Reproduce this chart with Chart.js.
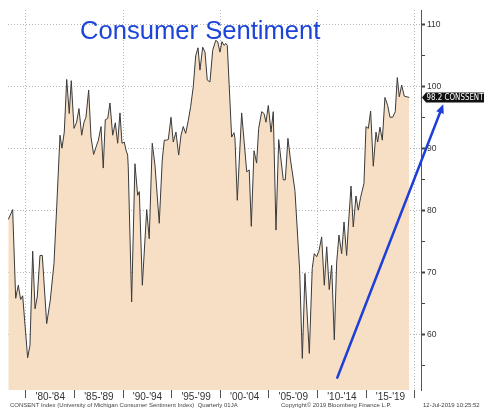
<!DOCTYPE html>
<html><head><meta charset="utf-8">
<script src="https://cdn.jsdelivr.net/npm/chart.js@4/dist/chart.umd.min.js"></script>
<style>
html,body{margin:0;padding:0;background:#fff;}
#wrap{position:relative;width:484px;height:413px;overflow:hidden;}
#title{position:absolute;left:80px;top:15px;font:25.6px "Liberation Sans",Arial,sans-serif;line-height:30px;color:#1b45d8;white-space:nowrap;}
.foot{position:absolute;top:402px;font:6px "Liberation Sans",Arial,sans-serif;line-height:7px;color:#444;white-space:nowrap;}
</style></head>
<body><div id="wrap"><canvas id="c" width="484" height="413"></canvas>
<div id="title">Consumer Sentiment</div>
<div class="foot" style="left:10px">CONSENT Index (University of Michigan Consumer Sentiment Index)&nbsp; Quarterly 01JA</div>
<div class="foot" style="left:281px">Copyright© 2019 Bloomberg Finance L.P.</div>
<div class="foot" style="left:423px">12-Jul-2019 10:25:52</div>
</div>
<script>
// decimal-year dates of the traced points
const dates = [1978.18,1978.63,1978.94,1979.21,1979.45,1979.66,1980.17,1980.41,1980.69,1980.93,1981.16,1981.44,1981.68,1982.13,1982.50,1982.88,1983.16,1983.50,1983.70,1983.94,1984.19,1984.45,1984.66,1984.94,1985.21,1985.45,1985.73,1985.97,1986.17,1986.45,1986.69,1986.96,1987.27,1987.45,1987.72,1987.95,1988.16,1988.41,1988.64,1988.92,1989.19,1989.43,1989.67,1989.88,1990.11,1990.29,1990.46,1990.52,1990.87,1991.21,1991.49,1991.66,1991.97,1992.42,1992.68,1992.99,1993.27,1993.71,1994.02,1994.23,1994.43,1994.64,1994.92,1995.15,1995.43,1995.71,1995.95,1996.18,1996.43,1996.70,1996.94,1997.21,1997.46,1997.70,1997.90,1998.18,1998.42,1998.65,1998.93,1999.21,1999.52,1999.72,1999.96,2000.16,2000.37,2000.58,2000.71,2001.16,2001.40,2001.50,2001.74,2002.19,2002.71,2002.97,2003.18,2003.46,2003.73,2003.94,2004.25,2004.49,2004.69,2004.93,2005.21,2005.44,2005.72,2006.00,2006.47,2006.68,2006.95,2007.20,2007.67,2008.15,2008.43,2008.70,2009.15,2009.45,2009.66,2009.91,2010.15,2010.42,2010.69,2010.94,2011.20,2011.45,2011.72,2011.96,2012.20,2012.48,2012.72,2012.99,2013.16,2013.44,2013.67,2013.95,2014.19,2014.43,2014.77,2014.98,2015.22,2015.46,2015.73,2016.01,2016.18,2016.42,2016.66,2016.93,2017.21,2017.45,2017.73,2017.99,2018.20,2018.41,2018.65,2018.92,2019.17,2019.43];
// University of Michigan Consumer Sentiment Index values
const sentiment = [78.5,80.1,65.8,67.9,65.6,66.2,56.2,58.2,73.4,64.1,66.0,72.7,72.7,61.7,65.5,71.4,80.5,92.1,90.0,92.6,101.1,95.6,100.9,93.2,94.2,96.4,92.1,94.2,95.0,99.4,91.8,89.0,90.5,91.3,93.5,86.8,94.6,94.8,97.3,92.1,94.1,90.8,95.7,90.8,91.0,89.7,88.9,87.0,65.2,87.5,82.4,83.0,67.9,80.1,75.4,90.8,87.3,77.9,88.1,91.3,91.3,91.4,95.0,91.0,92.6,88.9,92.1,93.5,92.4,94.5,96.7,99.9,104.9,106.2,102.6,106.3,105.5,101.0,100.7,105.8,107.4,107.2,105.5,107.2,106.6,106.9,106.6,91.8,92.5,91.6,81.6,95.7,86.2,86.5,77.4,89.6,87.6,93.2,95.9,95.6,94.2,96.9,92.6,95.9,76.8,91.4,84.9,84.9,91.6,88.3,83.2,70.5,56.1,69.8,56.9,70.6,73.0,72.5,73.5,75.7,67.9,74.1,67.2,71.1,59.1,71.5,76.0,73.0,78.1,72.7,77.3,83.9,77.3,82.3,80.0,82.1,84.3,93.5,93.2,96.0,87.1,92.6,91.0,93.4,91.3,98.2,96.9,95.0,95.0,95.9,101.4,98.3,100.2,98.4,98.3,98.2];
const periodStarts = [1980,1985,1990,1995,2000,2005,2010,2015];
const periodLabels = ["'80-'84","'85-'89","'90-'94","'95-'99","'00-'04","'05-'09","'10-'14","'15-'19"];
const yTicks = [55,60,65,70,75,80,85,90,95,100,105,110];
const seriesTag = 'CONSSENT';
const arrowFrom = [2012.03, 53.0];
const arrowTo = [2022.93, 97.1];

const xTicks = [];
periodStarts.forEach(s => { xTicks.push(s); xTicks.push(s + 2.5); });
xTicks.push(periodStarts[periodStarts.length-1] + 5);

const points = dates.map((d,i) => ({x: d, y: sentiment[i]}));

const overlay = {
  id: 'overlay',
  afterDraw(chart) {
    const {ctx, chartArea, scales: {x, y}} = chart;
    // arrow annotation
    const x1 = x.getPixelForValue(arrowFrom[0]), y1 = y.getPixelForValue(arrowFrom[1]);
    const x2 = x.getPixelForValue(arrowTo[0]), y2 = y.getPixelForValue(arrowTo[1]);
    const ang = Math.atan2(y2 - y1, x2 - x1);
    const hl = 9, hw = 4;
    const bx = x2 - hl * Math.cos(ang), by = y2 - hl * Math.sin(ang);
    ctx.save();
    ctx.strokeStyle = '#1e3fd8'; ctx.fillStyle = '#1e3fd8'; ctx.lineWidth = 2.6; ctx.lineCap = 'round';
    ctx.beginPath(); ctx.moveTo(x1, y1); ctx.lineTo(bx, by); ctx.stroke();
    ctx.beginPath();
    ctx.moveTo(x2, y2);
    ctx.lineTo(bx + hw * Math.sin(ang), by - hw * Math.cos(ang));
    ctx.lineTo(bx - hw * Math.sin(ang), by + hw * Math.cos(ang));
    ctx.closePath(); ctx.fill();
    ctx.restore();
    // last value tag
    const last = sentiment[sentiment.length - 1];
    const ty = y.getPixelForValue(last);
    const tx = chartArea.right + 1;
    ctx.save();
    ctx.fillStyle = '#111';
    ctx.beginPath();
    ctx.moveTo(tx, ty);
    ctx.lineTo(tx + 4, ty - 5);
    ctx.lineTo(490, ty - 5);
    ctx.lineTo(490, ty + 5);
    ctx.lineTo(tx + 4, ty + 5);
    ctx.closePath(); ctx.fill();
    ctx.fillStyle = '#fff';
    ctx.font = '9px "Liberation Sans Narrow", "DejaVu Sans Condensed", "Liberation Sans", Arial, sans-serif';
    ctx.textBaseline = 'middle';
    const txt = last.toFixed(1) + ' ' + seriesTag;
    const w = ctx.measureText(txt).width;
    const sx = Math.min(1, 57 / w);
    ctx.translate(tx + 4.5, ty + 0.5);
    ctx.scale(sx, 1);
    ctx.fillText(txt, 0, 0);
    ctx.restore();
  }
};

new Chart(document.getElementById('c'), {
  type: 'line',
  data: { datasets: [{
    data: points,
    borderColor: '#3a3a3a',
    borderWidth: 1,
    backgroundColor: '#F6DFC4',
    fill: 'start',
    pointRadius: 0,
    tension: 0
  }]},
  options: {
    responsive: false,
    animation: false,
    devicePixelRatio: 1,
    layout: { padding: { left: 8, top: 10, right: 0, bottom: 0 } },
    plugins: { legend: { display: false }, tooltip: { enabled: false } },
    scales: {
      x: {
        type: 'linear',
        min: 1978.15, max: 2020.64,
        afterBuildTicks: s => { s.ticks = xTicks.map(v => ({value: v})); },
        afterFit: s => { s.height = 23; },
        border: { display: false, dash: [1, 2] },
        grid: {
          color: c => (c.tick && c.tick.value % 10 === 0) ? '#b5b5b5' : 'rgba(0,0,0,0)',
          tickColor: c => (c.tick && c.tick.value % 5 === 0) ? '#555' : 'rgba(0,0,0,0)',
          tickLength: 8,
          lineWidth: 1
        },
        ticks: {
          autoSkip: false, maxRotation: 0, padding: -7,
          color: '#333',
          font: { family: '"Liberation Sans", Arial, sans-serif', size: 10 },
          callback: v => {
            const i = periodStarts.indexOf(v - 2.5);
            return i >= 0 ? periodLabels[i] : '';
          }
        }
      },
      y: {
        position: 'right',
        min: 51, max: 112.3,
        afterBuildTicks: s => { s.ticks = yTicks.map(v => ({value: v})); },
        afterFit: s => { s.width = 63; },
        border: { display: true, color: '#555', width: 1, dash: [1, 2] },
        grid: {
          color: c => (c.tick && c.tick.value % 10 === 0) ? '#b5b5b5' : 'rgba(0,0,0,0)',
          tickColor: '#444',
          tickWidth: c => (c.tick && c.tick.value % 10 === 0) ? 2 : 1,
          tickLength: 4
        },
        ticks: {
          padding: 2,
          color: '#333',
          font: { family: '"Liberation Sans", Arial, sans-serif', size: 8.5 },
          callback: v => (v % 10 === 0 ? String(v) : '')
        }
      }
    }
  },
  plugins: [overlay]
});
</script>
</body></html>
